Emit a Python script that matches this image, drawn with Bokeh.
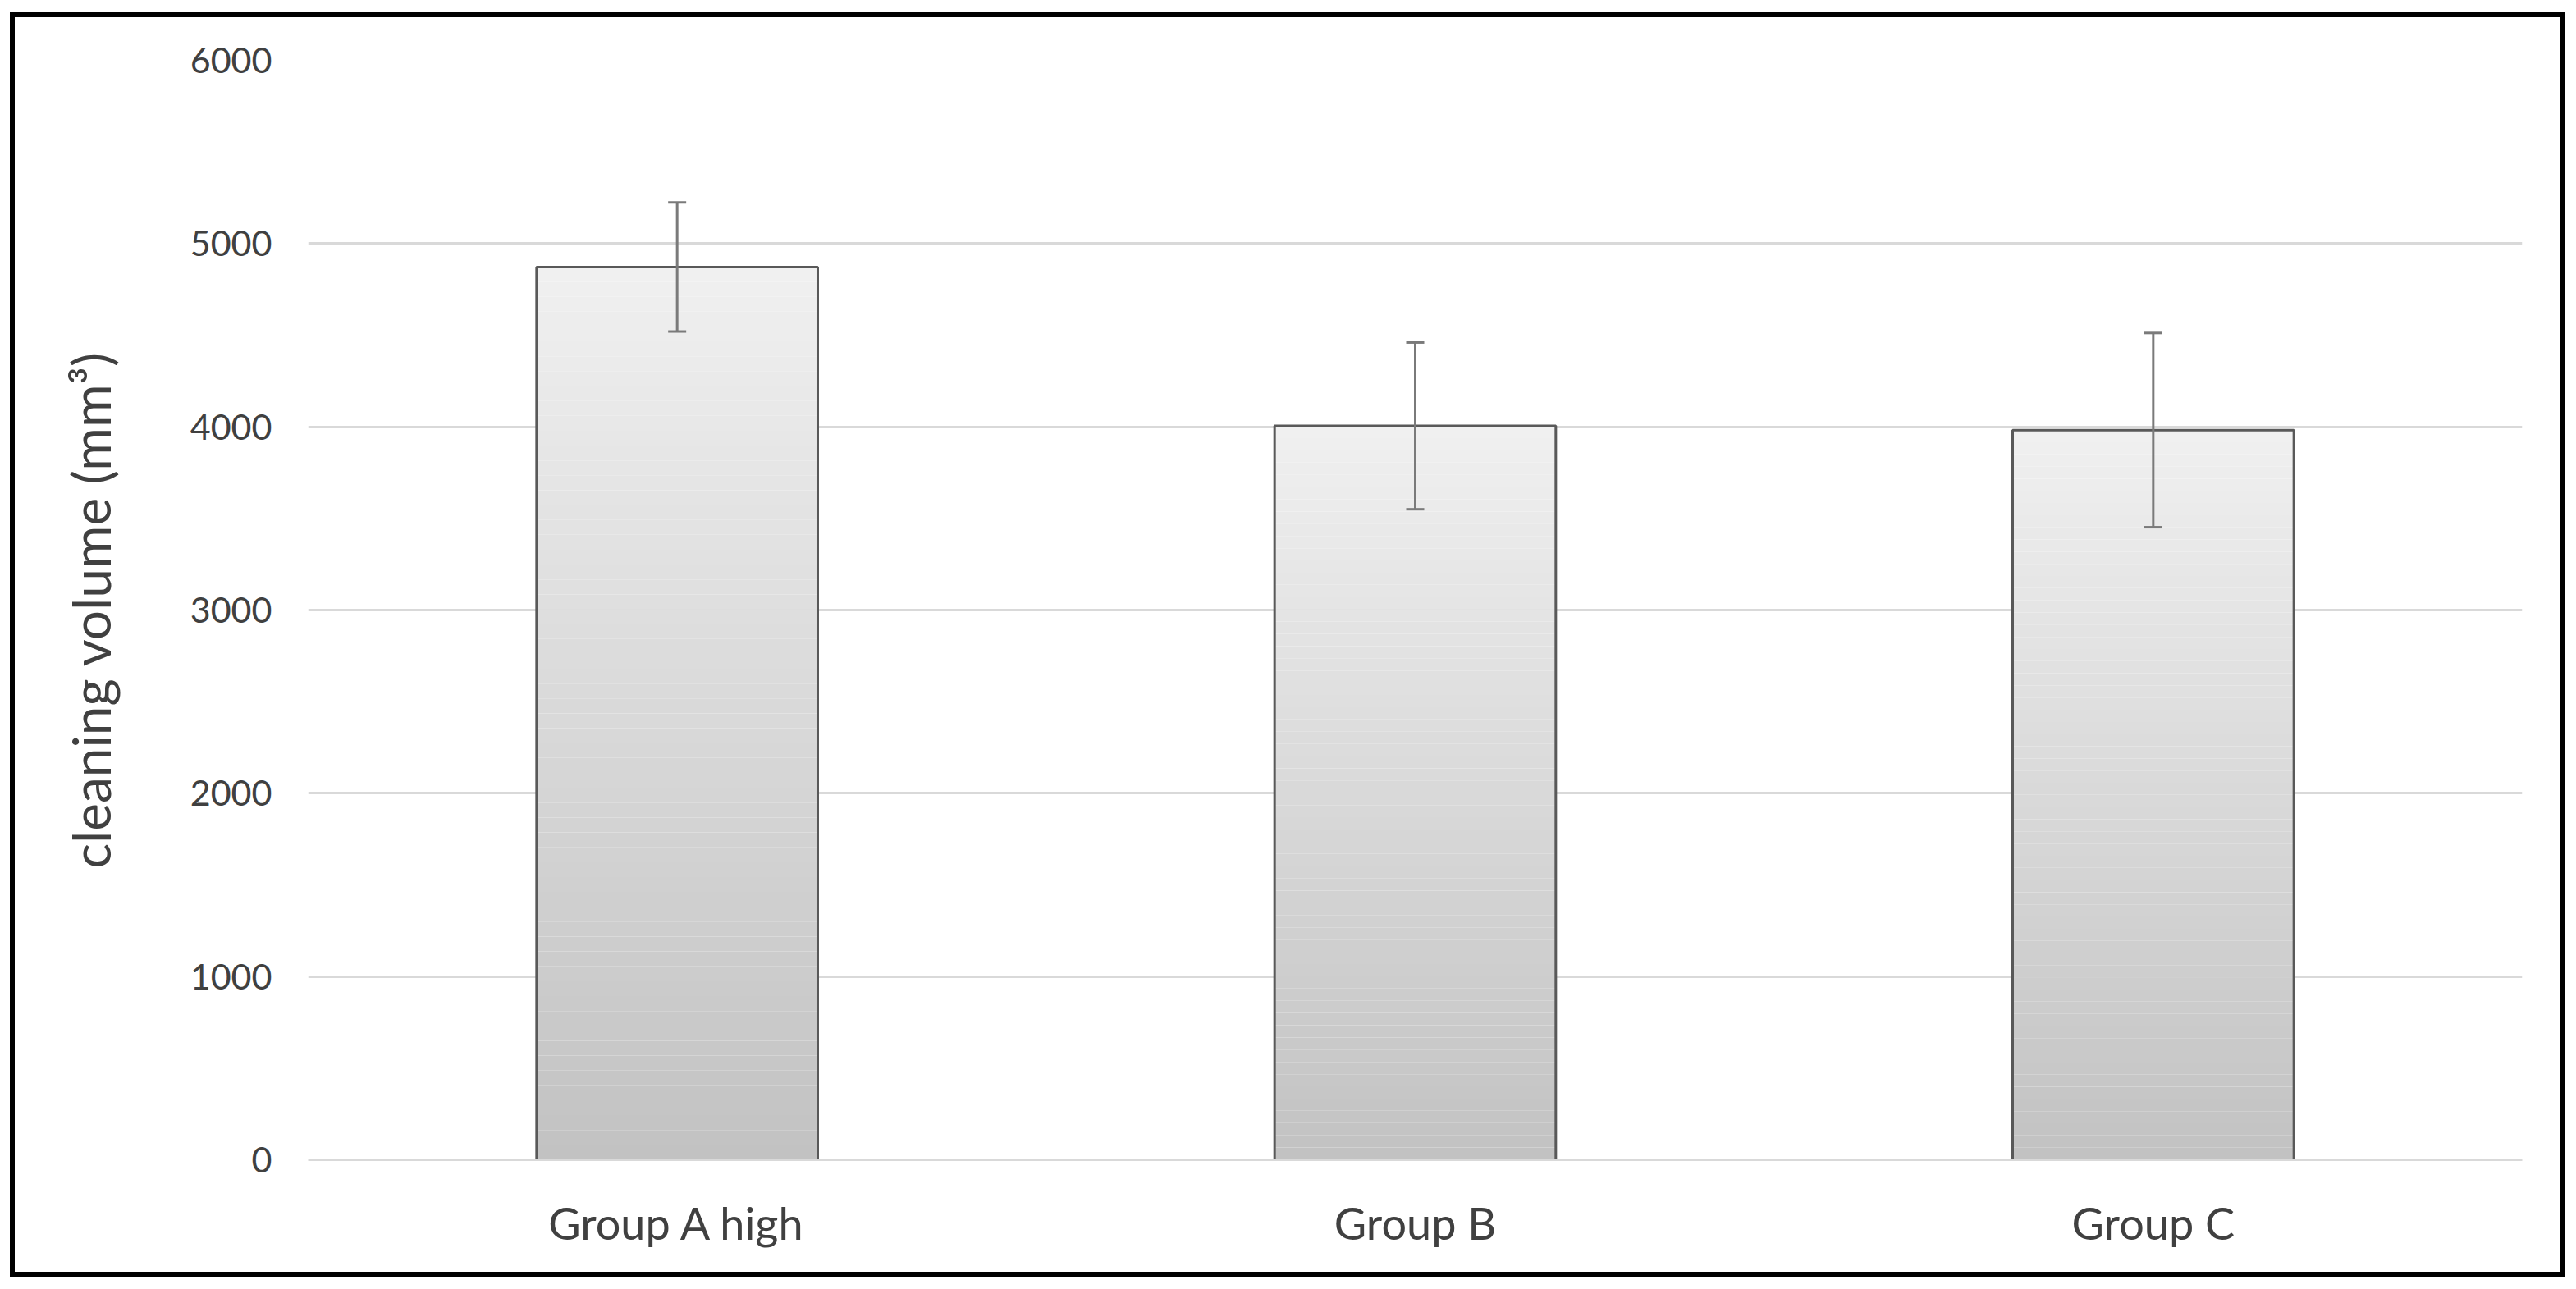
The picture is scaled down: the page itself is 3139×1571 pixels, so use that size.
from bokeh.plotting import figure
from bokeh.models import (ColumnDataSource, FactorRange, Range1d, FixedTicker,
                          Whisker, TeeHead)
from bokeh.embed import file_html
from bokeh.resources import INLINE

# ---- data ----
categories = ["Group A high", "Group B", "Group C"]
means = [4872, 4005, 3982]
errors = [352, 455, 530]
y_ticks = [0, 1000, 2000, 3000, 4000, 5000, 6000]

FONT = "Lato"
TEXT = "#404040"
W, H = 3128, 1558

p = figure(x_range=FactorRange(*categories, range_padding=0),
           y_range=Range1d(0, 6000),
           width=W, height=H,
           output_backend="svg", toolbar_location=None,
           min_border_left=375, min_border_right=55,
           min_border_top=73, min_border_bottom=145)
p.outline_line_color = None
p.background_fill_color = None
p.border_fill_color = None

# outer black frame painted as the element background (canvas is transparent)
bl = "linear-gradient(#000,#000)"
p.styles = {
    "background": (
        f"{bl} 12px 15px / 3114px 6px no-repeat, "
        f"{bl} 12px 1550px / 3114px 6px no-repeat, "
        f"{bl} 12px 15px / 6px 1541px no-repeat, "
        f"{bl} 3120px 15px / 6px 1541px no-repeat, "
        "#ffffff"
    )
}

# gradient-filled bars: stack thin slices from 0 to each value
N = 60
def lerp(c0, c1, t):
    return "#%02x%02x%02x" % tuple(int(round(a + (b - a) * t)) for a, b in zip(c0, c1))
bottom_c = (0xc2, 0xc2, 0xc2)
top_c = (0xf0, 0xf0, 0xf0)
xs, bots, tops, cols = [], [], [], []
for cat, m in zip(categories, means):
    for k in range(N):
        xs.append(cat)
        bots.append(m * k / N)
        tops.append(m * (k + 1) / N)
        cols.append(lerp(bottom_c, top_c, (k + 0.5) / N))
p.vbar(x=xs, bottom=bots, top=tops, width=0.381, fill_color=cols, line_color=None)

src = ColumnDataSource(dict(cat=categories, mean=means,
                            upper=[m + e for m, e in zip(means, errors)],
                            lower=[m - e for m, e in zip(means, errors)]))
p.vbar(x="cat", top="mean", bottom=0, width=0.381, source=src,
       fill_color=None, line_color="#595959", line_width=3)

w = Whisker(source=src, base="cat", upper="upper", lower="lower",
            line_color="#7a7a7a", line_width=3, level="overlay",
            upper_head=TeeHead(size=22, line_color="#7a7a7a", line_width=3),
            lower_head=TeeHead(size=22, line_color="#7a7a7a", line_width=3))
p.add_layout(w)

# grid
p.xgrid.grid_line_color = None
p.ygrid.grid_line_color = "#d9d9d9"
p.ygrid.grid_line_width = 3
p.yaxis.ticker = FixedTicker(ticks=y_ticks)

# axes
p.yaxis.axis_line_color = None
p.yaxis.major_tick_line_color = None
p.yaxis.minor_tick_line_color = None
p.yaxis.major_tick_out = 0
p.yaxis.major_label_standoff = 44
p.yaxis.major_label_text_font = FONT
p.yaxis.major_label_text_font_size = "43px"
p.yaxis.major_label_text_color = TEXT
p.yaxis.axis_label = "cleaning volume (mm³)"
p.yaxis.axis_label_text_font = FONT
p.yaxis.axis_label_text_font_size = "64px"
p.yaxis.axis_label_text_font_style = "normal"
p.yaxis.axis_label_text_color = TEXT
p.yaxis.axis_label_standoff = 80

p.xaxis.axis_line_color = "#d9d9d9"
p.xaxis.axis_line_width = 3
p.xaxis.major_tick_line_color = None
p.xaxis.minor_tick_line_color = None
p.xaxis.major_tick_out = 0
p.xaxis.major_label_standoff = 44
p.xaxis.major_label_text_font = FONT
p.xaxis.major_label_text_font_size = "54px"
p.xaxis.major_label_text_color = TEXT

open("out.html", "w").write(file_html(p, INLINE))
